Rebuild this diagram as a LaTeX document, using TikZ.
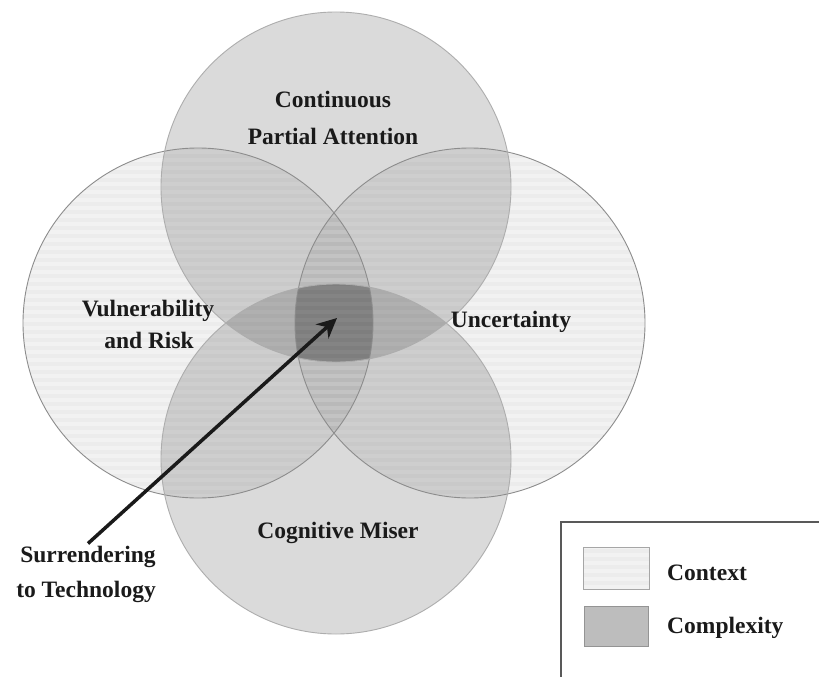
\documentclass[tikz,border=0pt]{standalone}
\usepackage{fontspec}
\setmainfont{Liberation Serif}
\usetikzlibrary{arrows.meta}
\definecolor{ink}{HTML}{1A1A1A}
\definecolor{keydark}{HTML}{BDBDBD}
\tikzset{
  lbl/.style={anchor=base,inner sep=2pt,text=ink,font=\fontsize{23.5}{28}\selectfont\bfseries},
  ring/.style={draw=black!45,line width=0.9pt},
  ringsoft/.style={draw=black!32,line width=0.9pt},
  ctxfill/.style={black,fill opacity=.05},
  cpxfill/.style={black,fill opacity=.145},
  stripe/.style={black,fill opacity=.025},
  corefill/.style={black,fill opacity=.2},
}
\begin{document}
\begin{tikzpicture}[x=1pt,y=-1pt,>={Stealth[length=20pt,width=19pt]}]
  \useasboundingbox (0,0) rectangle (819,677);
  \fill[white] (0,0) rectangle (819,677);
  \coordinate (T) at (336,187);
  \coordinate (B) at (336,459);
  \coordinate (L) at (198,323);
  \coordinate (R) at (470,323);
  % context circles, striped
  \fill[ctxfill] (L) circle[radius=175pt];
  \fill[ctxfill] (R) circle[radius=175pt];
  \begin{scope}
    \clip (L) circle[radius=175pt];
    \foreach \s in {146,154,...,500} \fill[stripe] (20,\s) rectangle (380,\s+4);
  \end{scope}
  \begin{scope}
    \clip (R) circle[radius=175pt];
    \foreach \s in {146,154,...,500} \fill[stripe] (290,\s) rectangle (650,\s+4);
  \end{scope}
  % complexity circles
  \fill[cpxfill] (T) circle[radius=175pt];
  \fill[cpxfill] (B) circle[radius=175pt];
  % core, all four
  \begin{scope}
    \clip (T) circle[radius=175pt];
    \clip (B) circle[radius=175pt];
    \clip (L) circle[radius=175pt];
    \fill[corefill] (R) circle[radius=175pt];
  \end{scope}
  \draw[ring] (L) circle[radius=175pt] (R) circle[radius=175pt];
  \draw[ringsoft] (T) circle[radius=175pt] (B) circle[radius=175pt];
  % labels
  \node[lbl] (cpa1) at (333,107) {Continuous};
  \node[lbl] (cpa2) at (333,144) {Partial Attention};
  \node[lbl] (vr1) at (148,316) {Vulnerability};
  \node[lbl] (vr2) at (149,348) {and Risk};
  \node[lbl] (unc) at (511,327) {Uncertainty};
  \node[lbl] (cm) at (338,538) {Cognitive Miser};
  \node[lbl] (sur) at (88,562) {Surrendering};
  \node[lbl] (tech) at (86,597) {to Technology};
  \coordinate (core) at (337,318);
  \draw[->,line width=3.5pt,ink] (sur.north) -- (core);
  % legend
  \draw[black!65,line width=1.5pt] (561,690) -- (561,522) -- (830,522);
  \fill[black!5] (583,547) rectangle (649,589);
  \begin{scope}
    \clip (583,547) rectangle (649,589);
    \foreach \s in {549,557,...,589} \fill[stripe] (583,\s) rectangle (649,\s+4);
  \end{scope}
  \draw[black!35,line width=1pt] (583,547) rectangle (649,589);
  \filldraw[fill=keydark,draw=black!42,line width=1pt] (584,606) rectangle (648,646);
  \node[lbl,anchor=base west] (ctx) at (665,580) {Context};
  \node[lbl,anchor=base west] (cpx) at (665,633) {Complexity};
\end{tikzpicture}
\end{document}
